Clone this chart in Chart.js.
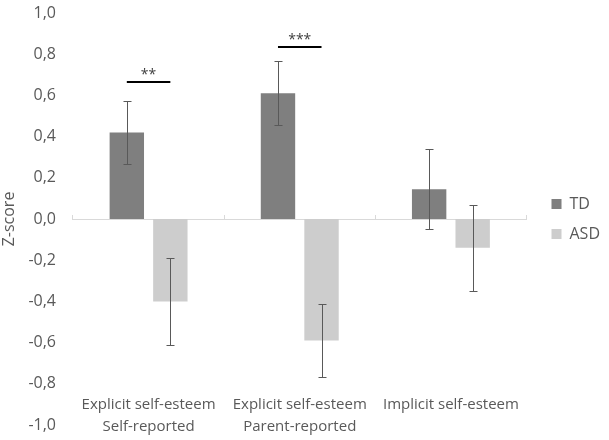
<!DOCTYPE html>
<html>
<head>
<meta charset="utf-8">
<script src="https://cdn.jsdelivr.net/npm/chart.js@4.4.0/dist/chart.umd.min.js"></script>
<style>
  html, body { margin: 0; padding: 0; background: #fff; }
</style>
</head>
<body>
<canvas id="chart" width="609" height="440"></canvas>
<script>
// values
const categories = [
  ['Explicit self-esteem', 'Self-reported'],
  ['Explicit self-esteem', 'Parent-reported'],
  'Implicit self-esteem'
];
const tdValues = [0.42, 0.61, 0.145];
const tdErrors = [0.155, 0.155, 0.195];
const asdValues = [-0.40, -0.59, -0.14];
const asdErrors = [0.21, 0.175, 0.21];
// significance brackets per category
const sigStars = ['**', '***', ''];
const sigLevels = [0.665, 0.835, null];
const yMin = -1, yMax = 1, yStep = 0.2;

Chart.defaults.font.family = "'Open Sans', sans-serif";
Chart.defaults.color = '#595959';

const errorBars = {
  id: 'errorBars',
  afterDatasetsDraw(chart) {
    const ctx = chart.ctx;
    const y = chart.scales.y;
    ctx.save();
    ctx.strokeStyle = '#595959';
    ctx.lineWidth = 1;
    chart.data.datasets.forEach((ds, i) => {
      chart.getDatasetMeta(i).data.forEach((bar, j) => {
        const v = ds.data[j], e = ds.errors[j];
        const top = Math.round(y.getPixelForValue(v + e)) + 0.5;
        const bot = Math.round(y.getPixelForValue(v - e)) + 0.5;
        const x = Math.round(bar.x) + 0.5;
        ctx.beginPath();
        ctx.moveTo(x, top); ctx.lineTo(x, bot);
        ctx.moveTo(x - 4, top); ctx.lineTo(x + 4, top);
        ctx.moveTo(x - 4, bot); ctx.lineTo(x + 4, bot);
        ctx.stroke();
      });
    });

    // significance lines + stars
    const m0 = chart.getDatasetMeta(0).data, m1 = chart.getDatasetMeta(1).data;
    ctx.strokeStyle = '#000';
    ctx.lineWidth = 2;
    ctx.fillStyle = '#404040';
    ctx.font = "14px 'Open Sans', sans-serif";
    ctx.textAlign = 'center';
    ctx.textBaseline = 'alphabetic';
    sigLevels.forEach((lvl, j) => {
      if (lvl === null) return;
      const yy = Math.round(y.getPixelForValue(lvl));
      ctx.beginPath();
      ctx.moveTo(m0[j].x, yy); ctx.lineTo(m1[j].x, yy);
      ctx.stroke();
      ctx.fillText(sigStars[j], (m0[j].x + m1[j].x) / 2, yy - 3);
    });
    ctx.restore();
  }
};

// push legend a little away from the plot, as in the original
const legendNudge = {
  id: 'legendNudge',
  afterLayout(chart) {
    const lg = chart.legend;
    const dx = chart.chartArea.right + 25 - (lg.left + lg.options.labels.padding);
    lg.left += dx;
    lg.right += dx;
  }
};

// keep tick labels from eating into the plot height
function noPad(scale) {
  scale.paddingTop = 0;
  scale.paddingBottom = 0;
}

new Chart(document.getElementById('chart'), {
  type: 'bar',
  data: {
    labels: categories,
    datasets: [
      {
        label: 'TD',
        data: tdValues,
        errors: tdErrors,
        backgroundColor: '#7f7f7f',
        categoryPercentage: 0.576,
        barPercentage: 0.79
      },
      {
        label: 'ASD',
        data: asdValues,
        errors: asdErrors,
        backgroundColor: '#cdcdcd',
        categoryPercentage: 0.576,
        barPercentage: 0.79
      }
    ]
  },
  options: {
    responsive: false,
    animation: false,
    layout: { padding: { top: 13, bottom: 15, left: 0, right: 10 } },
    scales: {
      y: {
        min: yMin,
        max: yMax,
        afterFit(scale) { scale.width = 73; noPad(scale); },
        ticks: {
          stepSize: yStep,
          padding: 17,
          font: { size: 16 },
          callback: (v) => v.toFixed(1).replace('.', ',').replace('-0,0', '0,0')
        },
        grid: { display: false, drawTicks: false },
        border: { display: false },
        title: {
          display: true,
          text: 'Z-score',
          font: { size: 16 },
          padding: { top: 0, bottom: 0 }
        }
      },
      x: {
        position: { y: -0.85 },
        afterFit: noPad,
        ticks: {
          padding: 0,
          maxRotation: 0,
          autoSkip: false,
          font: { size: 15, lineHeight: 22 / 15 }
        },
        grid: { display: false, drawTicks: false },
        border: { display: false }
      },
      x2: {
        type: 'category',
        position: { y: 0 },
        offset: true,
        afterFit: noPad,
        ticks: { display: false },
        grid: {
          offset: true,
          drawOnChartArea: false,
          tickLength: -5,
          color: '#d9d9d9'
        },
        border: { display: true, color: '#d9d9d9', width: 1 }
      }
    },
    plugins: {
      legend: {
        position: 'right',
        labels: {
          boxWidth: 10,
          boxHeight: 10,
          padding: 14,
          font: { size: 16 },
          color: '#595959'
        }
      },
      tooltip: { enabled: false }
    }
  },
  plugins: [errorBars, legendNudge]
});
</script>
</body>
</html>
